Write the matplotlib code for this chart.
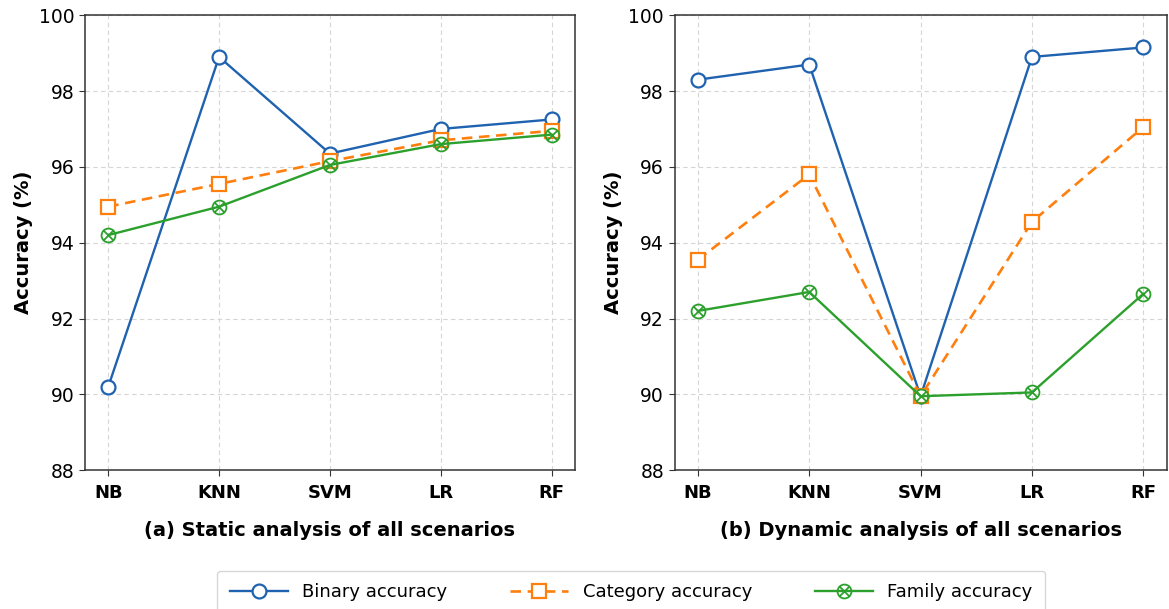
import matplotlib
matplotlib.use("Agg")
import matplotlib.pyplot as plt
from matplotlib.path import Path
import numpy as np

models = ["NB", "KNN", "SVM", "LR", "RF"]
static_binary = [90.2, 98.9, 96.35, 97.0, 97.25]
static_category = [94.95, 95.55, 96.15, 96.7, 96.95]
static_family = [94.2, 94.95, 96.05, 96.6, 96.85]
dynamic_binary = [98.3, 98.7, 89.95, 98.9, 99.15]
dynamic_category = [93.55, 95.8, 89.95, 94.55, 97.05]
dynamic_family = [92.2, 92.7, 89.95, 90.05, 92.65]
subtitles = ["(a) Static analysis of all scenarios", "(b) Dynamic analysis of all scenarios"]
series_names = ["Binary accuracy", "Category accuracy", "Family accuracy"]

c_blue = "#1f62b0"
c_orange = "#ff7f0e"
c_green = "#2ca02c"

# circle with an X inside
d = 0.7071
circ = Path.unit_circle()
xpath = Path([(-d, -d), (d, d), (-d, d), (d, -d)],
             [Path.MOVETO, Path.LINETO, Path.MOVETO, Path.LINETO])
circx = Path.make_compound_path(circ, xpath)

fig = plt.figure(figsize=(11.69, 6.09), dpi=100)
ax1 = fig.add_axes([0.0727, 0.228, 0.419, 0.747])
ax2 = fig.add_axes([0.577, 0.228, 0.421, 0.747])

x = np.arange(len(models))
handles = None
for ax, b, c, f, st in [(ax1, static_binary, static_category, static_family, subtitles[0]),
                        (ax2, dynamic_binary, dynamic_category, dynamic_family, subtitles[1])]:
    h1, = ax.plot(x, b, color=c_blue, lw=1.7, marker="o", ms=10, mfc="white",
                  mec=c_blue, mew=1.6, label=series_names[0], zorder=3)
    h2, = ax.plot(x, c, color=c_orange, lw=1.9, ls=(0, (4, 2.5)), marker="s", ms=10,
                  mfc="white", mec=c_orange, mew=1.6, label=series_names[1], zorder=3)
    h3, = ax.plot(x, f, color=c_green, lw=1.7, marker=circx, ms=10, mfc="none",
                  mec=c_green, mew=1.3, label=series_names[2], zorder=4)
    handles = [h1, h2, h3]
    ax.set_ylim(88, 100)
    ax.set_yticks([88, 90, 92, 94, 96, 98, 100])
    ax.set_xlim(-0.21, 4.21)
    ax.set_xticks(x)
    ax.set_xticklabels(models, fontweight="bold", fontsize=13)
    ax.tick_params(axis="y", labelsize=13.5)
    ax.tick_params(axis="x", pad=6)
    ax.tick_params(axis="both", direction="out", length=4, color="#333333")
    ax.grid(True, ls=(0, (4, 3)), color="#d5d5d5", lw=0.8)
    ax.set_axisbelow(True)
    for s in ax.spines.values():
        s.set_color("#333333")
        s.set_linewidth(1.1)
    ax.set_ylabel("Accuracy (%)", fontweight="bold", fontsize=14)
    ax.set_xlabel(st, fontweight="bold", fontsize=14, labelpad=14)

fig.legend(handles=handles, loc="upper center", bbox_to_anchor=(0.54, 0.078),
           ncol=3, fontsize=13, frameon=True, handlelength=3.2, columnspacing=3.5,
           borderpad=0.7, edgecolor="#cccccc", fancybox=True)

fig.savefig("out.png", dpi=100)
